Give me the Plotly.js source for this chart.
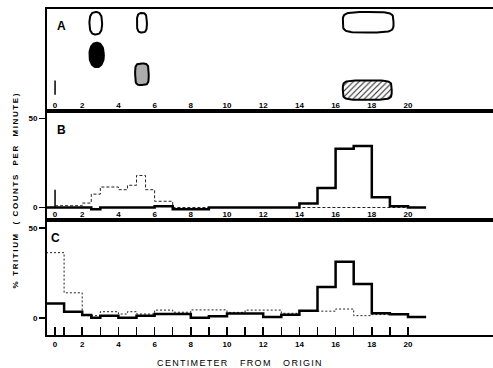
<!DOCTYPE html>
<html><head><meta charset="utf-8">
<script src="https://cdn.plot.ly/plotly-3.0.1.min.js"></script>
<style>body{margin:0;background:#fff}#chart{width:493px;height:368px}</style>
</head><body><div id="chart"></div>
<script>
// ---------- DATA ----------
// Panel A: chromatogram spots (position in cm, lane height in %, size)
const spotCm      = [2.75, 5.3, 17.8, 2.8, 5.3, 17.75];
const spotLane    = [86, 86.5, 87, 55, 36, 20.5];
const spotWidthCm = [0.7, 0.55, 2.8, 0.8, 0.75, 2.7];
const spotHeight  = [22, 19, 20, 24, 21, 19];
const spotKind    = ['open', 'open', 'open', 'solid', 'stipple', 'hatch'];
const originCm    = 0.5;
const originLaneA = [16, 30];
const originSpikeB = [0, 10];

// Panel B: fraction edges (cm) and % tritium
const solidBEdges  = [0, 2.5, 3, 6, 7, 9, 14, 15, 16, 17, 18, 19, 20, 21];
const solidBValues = [0, -1, 0, 0.7, -1, 0, 2.3, 11, 33, 34.5, 5.7, 0.7, 0];
const dashBEdges   = [0.5, 2, 2.5, 3, 4, 4.5, 5, 5.5, 6, 7, 20];
const dashBValues  = [1, 2.5, 7.5, 11.5, 10, 12.5, 18, 10, 3.5, 0];

// Panel C
const solidCEdges  = [0, 1, 2, 2.5, 3, 4, 5, 6, 8, 9, 10, 12, 13, 14, 15, 16, 17, 18, 19, 20, 21];
const solidCValues = [8.1, 3.5, 1.7, 0.2, 1.3, 0.2, 1.3, 2.2, 0.2, 1, 2.5, 0.5, 1.8, 4, 17.2, 31.3, 18.9, 2.6, 2.1, 0.6];
const dotCEdges    = [0, 1, 2, 3, 4, 4.5, 5, 6, 7, 8, 10, 11, 13, 14, 15, 16, 17, 18, 20, 21];
const dotCValues   = [36.3, 14, 1.3, 3.5, 2.2, 3.5, 2.2, 4.4, 3.2, 4.5, 3.1, 4.4, 2.6, 3.8, 3.8, 5, 1.3, 1.9, 0.5];

// Axis ticks
const xTickVals  = [0.5, 2, 4, 6, 8, 10, 12, 14, 16, 18, 20];
const xTickText  = ['0', '2', '4', '6', '8', '10', '12', '14', '16', '18', '20'];
const cTickVals  = [0.5, 1, 2, 3, 4, 5, 6, 7, 8, 9, 10, 11, 12, 13, 14, 15, 16, 17, 18, 19, 20];
const yTickVals  = [0, 50];
const yTickText  = ['0', '50'];

// ---------- STYLE ----------
const H = 368, W = 493;
const spotExp = [2.6, 3.2, 4.5, 2.2, 4, 5];
const fontB = 'Liberation Sans, Arial, sans-serif';

function stepTrace(edges, vals, xa, ya, line) {
  return {x: edges.slice(), y: vals.concat([vals[vals.length - 1]]), xaxis: xa, yaxis: ya,
          mode: 'lines', line: Object.assign({shape: 'hv'}, line), hoverinfo: 'skip'};
}
function spotTrace(i) {
  const xs = [], ys = [], n = spotExp[i];
  for (let k = 0; k <= 72; k++) {
    const t = k / 72 * 2 * Math.PI, c = Math.cos(t), s = Math.sin(t);
    xs.push(spotCm[i] + spotWidthCm[i] / 2 * Math.sign(c) * Math.pow(Math.abs(c), 2 / n));
    ys.push(spotLane[i] + spotHeight[i] / 2 * Math.sign(s) * Math.pow(Math.abs(s), 2 / n));
  }
  const tr = {x: xs, y: ys, xaxis: 'x', yaxis: 'y', mode: 'lines', fill: 'toself',
              line: {color: '#000', width: 2}, hoverinfo: 'skip'};
  const k = spotKind[i];
  if (k === 'open') tr.fillcolor = 'rgba(255,255,255,0)';
  if (k === 'solid') tr.fillcolor = '#000';
  if (k === 'stipple') { tr.fillcolor = '#fff'; tr.fillpattern = {shape: '.', fgcolor: '#444', bgcolor: '#eee', size: 2, solidity: 0.4}; }
  if (k === 'hatch') { tr.fillcolor = '#fff'; tr.fillpattern = {shape: '/', fgcolor: '#222', bgcolor: '#fff', size: 4, solidity: 0.25}; }
  return tr;
}

const traces = [];
spotCm.forEach((_, i) => traces.push(spotTrace(i)));
traces.push({x: [originCm, originCm], y: originLaneA, xaxis: 'x', yaxis: 'y', mode: 'lines', line: {color: '#000', width: 1.5}, hoverinfo: 'skip'});
traces.push({x: [originCm, originCm], y: originSpikeB, xaxis: 'x2', yaxis: 'y2', mode: 'lines', line: {color: '#000', width: 1.5}, hoverinfo: 'skip'});
traces.push(stepTrace(dashBEdges, dashBValues, 'x2', 'y2', {color: '#222', width: 1, dash: '3px,2px'}));
traces.push(stepTrace(solidBEdges, solidBValues, 'x2', 'y2', {color: '#000', width: 2.5}));
traces.push(stepTrace(dotCEdges, dotCValues, 'x3', 'y3', {color: '#222', width: 1, dash: '2px,2px'}));
traces.push(stepTrace(solidCEdges, solidCValues, 'x3', 'y3', {color: '#000', width: 2.5}));

const xRange = [(47 - 46) / 18.1, (493 - 46) / 18.1];
const dom = (top, bot) => [1 - bot / H, 1 - top / H];
const tickFont = {family: fontB, size: 8, color: '#000', weight: 'bold'};
const baseX = {range: xRange, domain: [47 / W, 1], showgrid: false, zeroline: false, showline: true, mirror: true,
               linecolor: '#000', linewidth: 2, tickvals: xTickVals, ticktext: xTickText, tickfont: tickFont, fixedrange: true};
const baseY = {showgrid: false, zeroline: false, showline: true, linecolor: '#000', linewidth: 2, fixedrange: true,
               tickvals: yTickVals, ticktext: yTickText, ticks: 'outside', ticklen: 6, tickwidth: 1.5, tickcolor: '#000', tickfont: tickFont};

const ann = (text, px, py, font, extra) => Object.assign({text: text, x: px / W, y: 1 - py / H, xref: 'paper', yref: 'paper',
  xanchor: 'center', yanchor: 'middle', showarrow: false, font: font}, extra || {});
const labelFont = {family: fontB, size: 12, weight: 'bold', color: '#000'};

const layout = {
  width: W, height: H, margin: {l: 0, r: 0, t: 0, b: 0}, paper_bgcolor: '#fff', plot_bgcolor: '#fff', showlegend: false,
  xaxis:  Object.assign({}, baseX, {anchor: 'y', ticks: '', ticklabelposition: 'inside'}),
  xaxis2: Object.assign({}, baseX, {anchor: 'y2', ticks: '', ticklabelposition: 'inside'}),
  xaxis3: Object.assign({}, baseX, {anchor: 'y3', tickvals: cTickVals,
            ticktext: cTickVals.map(v => { const i = xTickVals.indexOf(v); return i >= 0 ? xTickText[i] : ''; }),
            ticks: 'inside', ticklen: 8, tickwidth: 1.5, tickcolor: '#000'}),
  yaxis:  Object.assign({}, baseY, {anchor: 'x', domain: dom(9, 111), range: [0, 100], tickvals: [], ticks: ''}),
  yaxis2: Object.assign({}, baseY, {anchor: 'x2', domain: dom(111, 220), range: [-(220 - 207.5) / 1.78, (207.5 - 111) / 1.78]}),
  yaxis3: Object.assign({}, baseY, {anchor: 'x3', domain: dom(220, 335), range: [-(335 - 318) / 1.8, (318 - 220) / 1.8]}),
  annotations: [
    ann('A', 61.5, 25.5, labelFont),
    ann('B', 61, 130, labelFont),
    ann('C', 55, 238, labelFont),
    ann('%\u00a0TRITIUM\u00a0\u00a0(\u00a0COUNTS\u00a0\u00a0PER\u00a0\u00a0MINUTE)', 15, 190,
        {family: fontB, size: 8, weight: 'bold', color: '#000'}, {textangle: -90}),
    ann('CENTIMETER\u00a0\u00a0\u00a0FROM\u00a0\u00a0\u00a0ORIGIN', 240, 363, {family: fontB, size: 9, color: '#000'})
  ]
};

Plotly.newPlot('chart', traces, layout, {displayModeBar: false, staticPlot: true}).then(() => {
  document.querySelectorAll('.annotation-text').forEach(t => {
    if (t.textContent.indexOf('TRITIUM') >= 0) t.style.letterSpacing = '1.6px';
    if (t.textContent.indexOf('CENTIMETER') >= 0) t.style.letterSpacing = '1.3px';
  });
});
</script>
</body></html>
